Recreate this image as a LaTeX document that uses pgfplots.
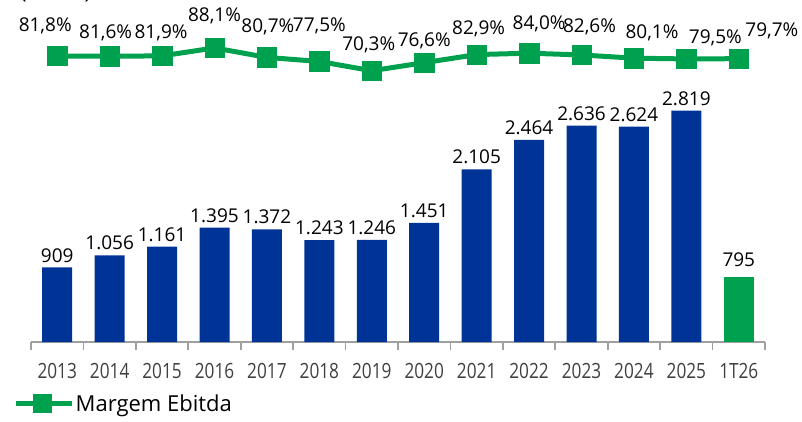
\documentclass[border=0pt]{standalone}
\usepackage{pgfplots}
\pgfplotsset{compat=1.18}
\usepackage{fontspec}
\setmainfont{Open Sans}
\newfontfamily\condfont[FakeStretch=0.82]{Open Sans}
\definecolor{barblue}{RGB}{0,51,150}
\definecolor{lgreen}{RGB}{0,161,78}
\definecolor{axisgray}{RGB}{160,160,160}
\definecolor{tickgray}{RGB}{64,64,64}
\newcommand{\tickfont}{\condfont\fontsize{21}{24}\selectfont}
\newcommand{\valfont}{\fontsize{19}{22}\selectfont}
\newcommand{\legfont}{\fontsize{22}{26}\selectfont}
\begin{document}
\begin{tikzpicture}
\useasboundingbox (0pt,0pt) rectangle (802pt,421pt);
\clip (0pt,0pt) rectangle (802pt,421pt);
% bars
\begin{axis}[
  at={(31pt,79pt)}, anchor=south west, scale only axis,
  width=734pt, height=246.15pt,
  xmin=-0.5, xmax=13.5, ymin=0, ymax=3000,
  axis x line*=bottom, axis y line=none,
  x axis line style={draw=axisgray, line width=1.8pt},
  xtick={0,...,13},
  xticklabels={2013,2014,2015,2016,2017,2018,2019,2020,2021,2022,2023,2024,2025,1T26},
  major tick length=0pt,
  minor xtick={-0.5,0.5,...,13.5},
  minor tick length=8pt, tick align=outside,
  minor tick style={draw=axisgray, line width=1.8pt},
  xticklabel style={font=\tickfont, text=tickgray, anchor=north, yshift=-18pt},
  clip=false,
]
\addplot[ybar, bar width=30pt, bar shift=0pt, fill=barblue, draw=none,
  nodes near coords, point meta=explicit symbolic,
  every node near coord/.append style={font=\valfont, text=black, inner sep=0pt, anchor=south, yshift=5pt}]
coordinates {
(0,909) [909] (1,1056) [1.056] (2,1161) [1.161] (3,1395) [1.395]
(4,1372) [1.372] (5,1243) [1.243] (6,1246) [1.246] (7,1451) [1.451]
(8,2105) [2.105] (9,2464) [2.464] (10,2636) [2.636] (11,2624) [2.624]
(12,2819) [2.819]
};
\addplot[ybar, bar width=30pt, bar shift=0pt, fill=lgreen, draw=none,
  nodes near coords, point meta=explicit symbolic,
  every node near coord/.append style={font=\valfont, text=black, inner sep=0pt, anchor=south, yshift=10pt}]
coordinates {(13,795) [795]};
\end{axis}
% line
\begin{axis}[
  at={(0pt,0pt)}, anchor=south west, scale only axis,
  width=802pt, height=421pt,
  xmin=-1.0910, xmax=14.2050, ymin=-203.36, ymax=125.55,
  hide axis, clip=false,
  legend style={draw=none, fill=none, inner sep=0pt, font=\legfont,
    at={(axis description cs:0.0162,0.0404)}, anchor=west,
    nodes={inner sep=1.5pt}},
  legend image code/.code={
    \draw[lgreen, line width=5pt] (0pt,0pt) -- (56pt,0pt);
    \fill[lgreen] (20pt,-7pt) rectangle (34pt,7pt);
  },
]
\addplot[lgreen, line width=5pt, mark=square*,
  mark options={line width=0.5pt, fill=lgreen, draw=lgreen}, mark size=9.75pt,
  nodes near coords={\pgfplotspointmeta\%},
  point meta=explicit symbolic,
  visualization depends on={value \thisrow{dx} \as \dx},
  visualization depends on={value \thisrow{dy} \as \dy},
  every node near coord/.append style={font=\valfont, text=black, inner sep=0pt,
    anchor=base, xshift=\dx pt, yshift=\dy pt}]
table[x=x, y=y, meta=lab] {
x y lab dx dy
0 81.8 81,8 -12 24
1 81.6 81,6 -4 17.8
2 81.9 81,9 -1 17.4
3 88.1 88,1 0 26.9
4 80.7 80,7 1 25.4
5 77.5 77,5 0 29.5
6 70.3 70,3 -3 20.7
7 76.6 76,6 0 15.7
8 82.9 82,9 2 19.6
9 84.0 84,0 10 23.2
10 82.6 82,6 8 22
11 80.1 80,1 18 19.2
12 79.5 79,5 29 15.9
13 79.7 79,7 33 21.7
};
\addlegendentry{Margem Ebitda}
\node[anchor=base west, font=\legfont, text=black, inner sep=0pt] at (axis description cs:0.025,1.0024) {(R\$ mi)};
\end{axis}
\end{tikzpicture}
\end{document}
